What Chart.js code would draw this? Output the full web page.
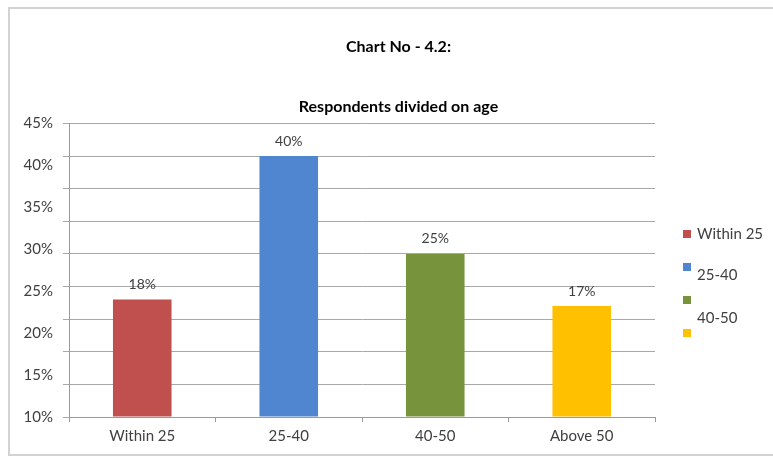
<!DOCTYPE html>
<html>
<head>
<meta charset="utf-8">
<script src="https://cdn.jsdelivr.net/npm/chart.js@4"></script>
<style>
  html, body { margin: 0; padding: 0; background: #fff; overflow: hidden; }
  #frame { position: absolute; left: 8px; top: 7px; width: 820px; height: 445px; border: 2px solid #d2d2d2; }
  #chart { position: absolute; left: 0; top: 0; }
</style>
</head>
<body>
<div id="frame"></div>
<canvas id="chart" width="800" height="456"></canvas>
<script>
// data
const categories = ["Within 25", "25-40", "40-50", "Above 50"];
const shares = [18, 40, 25, 17];
const barColors = ["#C0504D", "#4F86CF", "#77933C", "#FFC000"];
// the printed y labels (they are spread evenly and don't match the grid)
const printedTicks = [10, 15, 20, 25, 30, 35, 40, 45];

// legend in the source is drawn a bit broken: text drifts below the boxes
const legendShift = [0, 8, 18, null];

const font = "Lato, 'Open Sans', sans-serif";
const textColor = "#404040";

// value labels above bars
const barLabels = {
    id: "barLabels",
    afterDatasetsDraw(chart) {
        const ctx = chart.ctx;
        const meta = chart.getDatasetMeta(0);
        ctx.save();
        ctx.font = "14px " + font;
        ctx.fillStyle = textColor;
        ctx.textAlign = "center";
        ctx.textBaseline = "bottom";
        meta.data.forEach(function(bar, i) {
            ctx.fillText(shares[i] + "%", bar.x, bar.y - 8);
        });
        ctx.restore();
    }
};

// legend on the right
const sideLegend = {
    id: "sideLegend",
    afterDraw(chart) {
        const ctx = chart.ctx;
        ctx.save();
        ctx.font = "15px " + font;
        ctx.textBaseline = "middle";
        ctx.textAlign = "left";
        categories.forEach(function(name, i) {
            let y = 234 + i * 33;
            ctx.fillStyle = barColors[i];
            ctx.fillRect(683, y - 4, 8, 8);
            if (legendShift[i] !== null) {
                ctx.fillStyle = textColor;
                ctx.fillText(name, 697, y + legendShift[i]);
            }
        });
        ctx.restore();
    }
};

new Chart(document.getElementById("chart").getContext("2d"), {
    type: "bar",
    data: {
        labels: categories,
        datasets: [{
            data: shares,
            backgroundColor: barColors,
            borderWidth: 0,
            barPercentage: 0.4,
            categoryPercentage: 1
        }]
    },
    options: {
        responsive: false,
        animation: false,
        layout: { padding: { left: 10, right: 13, top: 0, bottom: 0 } },
        plugins: {
            legend: { display: false },
            tooltip: { enabled: false },
            title: {
                display: true,
                text: "Chart No - 4.2:",
                color: "#000",
                font: { family: font, size: 16, weight: "bold" },
                padding: { top: 37, bottom: 41 }
            },
            subtitle: {
                display: true,
                text: "Respondents divided on age",
                color: "#000",
                font: { family: font, size: 16, weight: "bold" },
                padding: { top: 0, bottom: 7 }
            }
        },
        scales: {
            x: {
                grid: { drawOnChartArea: false, drawTicks: true, tickLength: 5, color: "#9a9a9a", offset: true },
                border: { color: "#9a9a9a" },
                ticks: { color: textColor, font: { family: font, size: 15 }, padding: 5 },
                afterFit(s) { s.height = 39; }
            },
            y: {
                min: 0,
                max: 45,
                weight: 0,
                ticks: { display: false, stepSize: 5 },
                grid: { color: "#a8a8a8", tickLength: 6 },
                border: { color: "#9a9a9a" },
                afterFit(s) { s.width = 7; }
            },
            yLabels: {
                position: "left",
                weight: 1,
                min: 10,
                max: 45,
                grid: { display: false, drawTicks: false },
                border: { display: false },
                afterBuildTicks(s) { s.ticks = printedTicks.map(v => ({ value: v })); },
                ticks: {
                    color: textColor,
                    font: { family: font, size: 15 },
                    padding: 9,
                    callback: v => v + "%"
                },
                afterFit(s) { s.width = 52; }
            },
            // empty axis that keeps the room for the legend on the right
            spacer: {
                position: "right",
                ticks: { display: false },
                grid: { display: false, drawTicks: false },
                border: { display: false },
                afterFit(s) { s.width = 132; }
            }
        }
    },
    plugins: [barLabels, sideLegend]
});
</script>
</body>
</html>
